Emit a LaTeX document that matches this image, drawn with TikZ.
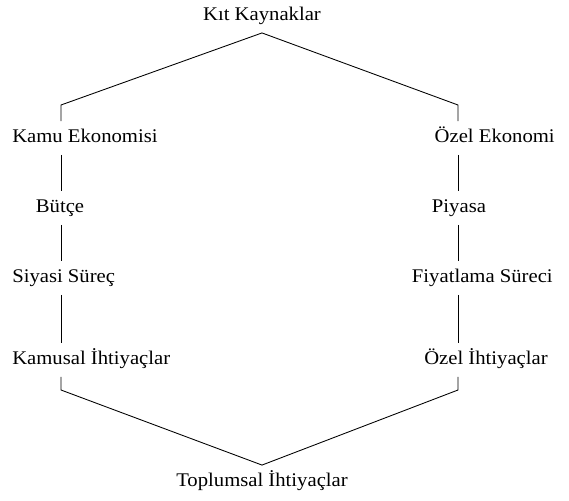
\documentclass[tikz,border=0pt]{standalone}
\usepackage{fontspec}
\setmainfont[FakeStretch=1.07]{Liberation Serif}

\tikzset{
	label/.style={inner xsep=0pt, inner ysep=6.5pt, text height=9pt, text depth=3pt, font=\fontsize{14.5}{16}\selectfont},
	link/.style={line width=0.65pt}
}

\begin{document}
\begin{tikzpicture}[x=0.75pt, y=-0.75pt]
				\useasboundingbox (0,0) rectangle (569,501);
				
				\coordinate (lx) at (61,0);
				\coordinate (rx) at (458,0);
				\coordinate (lt) at (61,105);
				\coordinate (rt) at (458,105);
				\coordinate (lb) at (61,390);
				\coordinate (rb) at (458,390);
				
				\node[label] (kit) at (262,16) {Kıt Kaynaklar};
				\node[label] (toplum) at (262,482) {Toplumsal İhtiyaçlar};
				
				\node[label, anchor=west] (kamu) at (12,138) {Kamu Ekonomisi};
				\node[label] (butce) at (60,208) {Bütçe};
				\node[label, anchor=west] (siyasi) at (12,278) {Siyasi Süreç};
				\node[label, anchor=west] (kamusal) at (12,360) {Kamusal İhtiyaçlar};
				
				\node[label, anchor=east] (ozel) at (555,138) {Özel Ekonomi};
				\node[label] (piyasa) at (459,208) {Piyasa};
				\node[label, anchor=east] (fiyat) at (553,278) {Fiyatlama Süreci};
				\node[label, anchor=east] (ozelih) at (548,360) {Özel İhtiyaçlar};
				
				\draw[link] (kamu.north -| lx) -- (lt) -- (kit.south) -- (rt) -- (ozel.north -| rx);
				\draw[link] (kamusal.south -| lx) -- (lb) -- (toplum.north) -- (rb) -- (ozelih.south -| rx);
				
				\draw[link] (kamu.south -| lx) -- (butce.north -| lx);
				\draw[link] (butce.south -| lx) -- (siyasi.north -| lx);
				\draw[link] (siyasi.south -| lx) -- (kamusal.north -| lx);
				
				\draw[link] (ozel.south -| rx) -- (piyasa.north -| rx);
				\draw[link] (piyasa.south -| rx) -- (fiyat.north -| rx);
				\draw[link] (fiyat.south -| rx) -- (ozelih.north -| rx);
				\end{tikzpicture}
\end{document}
